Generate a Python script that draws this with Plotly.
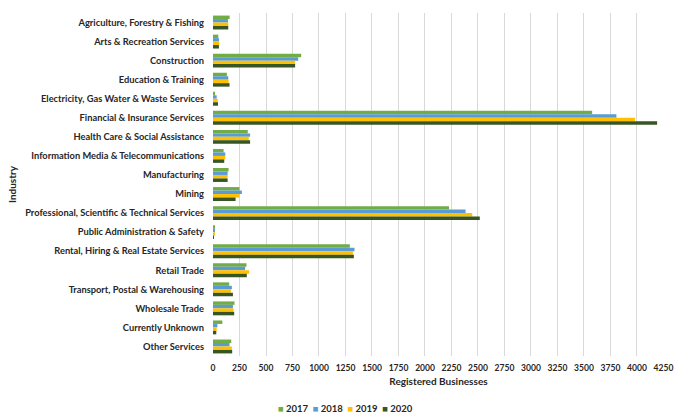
import plotly.graph_objects as go

industries = [
    "Agriculture, Forestry & Fishing",
    "Arts & Recreation Services",
    "Construction",
    "Education & Training",
    "Electricity, Gas Water & Waste Services",
    "Financial & Insurance Services",
    "Health Care & Social Assistance",
    "Information Media & Telecommunications",
    "Manufacturing",
    "Mining",
    "Professional, Scientific & Technical Services",
    "Public Administration & Safety",
    "Rental, Hiring & Real Estate Services",
    "Retail Trade",
    "Transport, Postal & Warehousing",
    "Wholesale Trade",
    "Currently Unknown",
    "Other Services",
]

years = ["2017", "2018", "2019", "2020"]

values_2017 = [157, 50, 832, 131, 16, 3577, 328, 100, 147, 250, 2227, 12, 1291, 316, 153, 203, 88, 172]
values_2018 = [141, 56, 804, 144, 35, 3806, 350, 116, 138, 272, 2383, 16, 1335, 303, 178, 188, 41, 156]
values_2019 = [144, 59, 775, 147, 44, 3981, 338, 116, 138, 250, 2446, 12, 1320, 341, 169, 194, 35, 178]
values_2020 = [144, 56, 775, 156, 47, 4190, 350, 106, 138, 213, 2517, 8, 1329, 319, 188, 200, 31, 181]

series = [values_2017, values_2018, values_2019, values_2020]
colors = ["#70AD47", "#5B9BD5", "#FFC000", "#375623"]

x_ticks = list(range(0, 4251, 250))

font_family = "Lato"
text_color = "#262626"

fig = go.Figure()
for year, vals, col in zip(years, series, colors):
    fig.add_trace(go.Bar(
        y=industries,
        x=vals,
        name=year,
        orientation="h",
        marker=dict(color=col, line=dict(width=0)),
        showlegend=False,
    ))

# compact legend row under the axis title
legend_text = "&nbsp;&nbsp;".join(
    f"<span style='color:{c}'>■</span> {y}" for y, c in zip(years, colors)
)
fig.add_annotation(
    text=legend_text,
    xref="paper", yref="paper",
    x=(345 - 213) / (664 - 213), y=(356 - 409) / 343,
    xanchor="center", yanchor="middle",
    showarrow=False,
    font=dict(family=font_family, size=9.5, color=text_color, weight="bold"),
)

fig.update_layout(
    width=675,
    height=414,
    margin=dict(l=213, r=11, t=13, b=58, autoexpand=False),
    paper_bgcolor="white",
    plot_bgcolor="white",
    barmode="group",
    bargap=0.27,
    bargroupgap=0,
    font=dict(family=font_family, size=9.5, color=text_color, weight="bold"),
    showlegend=False,
)

fig.update_xaxes(
    range=[0, 4255],
    tickvals=x_ticks,
    ticktext=[str(v) for v in x_ticks],
    showgrid=True,
    gridcolor="#D9D9D9",
    gridwidth=1,
    zeroline=False,
    showline=False,
    ticks="",
    ticklabelstandoff=5,
    tickfont=dict(size=8.5, weight="bold"),
    title=dict(text="Registered Businesses", font=dict(size=10, weight="bold"), standoff=6),
)

fig.update_yaxes(
    autorange="reversed",
    showgrid=False,
    zeroline=False,
    showline=False,
    ticks="",
    ticklabelstandoff=8,
    tickfont=dict(size=9.3, weight="bold"),
    title=dict(text="Industry", font=dict(size=10, weight="bold"), standoff=6),
)

fig.write_html("out.html")
